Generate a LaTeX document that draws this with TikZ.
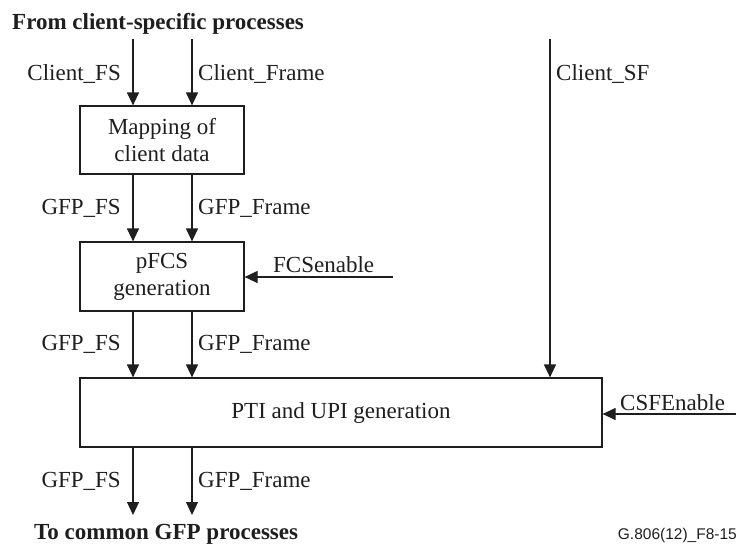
\documentclass[tikz,border=0pt]{standalone}
\usepackage{fontspec}
\setmainfont{Liberation Serif}
\newfontfamily\capfont{Liberation Sans}
\usetikzlibrary{arrows.meta}
\definecolor{ink}{RGB}{30,30,30}
\tikzset{
  blk/.style={draw=ink, line width=1.2pt, rectangle, inner sep=0pt, align=center, text=ink},
  arr/.style={draw=ink, line width=1.2pt, -{Triangle[length=13pt,width=12pt]}},
  lbl/.style={inner sep=0pt, text=ink},
}
\begin{document}
\begin{tikzpicture}[x=1pt,y=-1pt,font=\fontsize{23}{27}\selectfont]
\useasboundingbox (0,0) rectangle (739,544);
% boxes
\node[blk, minimum width=164pt, minimum height=68pt] (map) at (162,140) {Mapping of\\client data};
\node[blk, minimum width=164pt, minimum height=69pt] (pfcs) at (162,276.5) {pFCS\\generation};
\node[blk, minimum width=522pt, minimum height=69pt] (pti) at (341,412.5) {PTI and UPI generation};
% coordinates
\coordinate (cfs) at (133,39);
\coordinate (cfr) at (192,39);
\coordinate (csf) at (550,39);
\coordinate (ofs) at (133,515);
\coordinate (ofr) at (192,515);
\coordinate (fcsen) at (393,277);
\coordinate (csfen) at (736,414);
% arrows
\draw[arr] (cfs) -- (cfs |- map.north);
\draw[arr] (cfr) -- (cfr |- map.north);
\draw[arr] (cfs |- map.south) -- (cfs |- pfcs.north);
\draw[arr] (cfr |- map.south) -- (cfr |- pfcs.north);
\draw[arr] (cfs |- pfcs.south) -- (cfs |- pti.north);
\draw[arr] (cfr |- pfcs.south) -- (cfr |- pti.north);
\draw[arr] (csf) -- (csf |- pti.north);
\draw[arr] (ofs |- pti.south) -- (ofs);
\draw[arr] (ofr |- pti.south) -- (ofr);
\draw[arr] (fcsen) -- (fcsen -| pfcs.east);
\draw[arr] (csfen) -- (csfen -| pti.east);
% labels
\node[lbl, anchor=base west] (title) at (12,29) {\bfseries From client-specific processes};
\node[lbl, anchor=base west] (bottom) at (34,539) {\bfseries To common GFP processes};
\node[lbl, anchor=base east] (l1) at (121,80) {Client\_FS};
\node[lbl, anchor=base west] (l2) at (198,80) {Client\_Frame};
\node[lbl, anchor=base west] (l3) at (556,80) {Client\_SF};
\node[lbl, anchor=base east] (l4) at (121,214) {GFP\_FS};
\node[lbl, anchor=base west] (l5) at (198,214) {GFP\_Frame};
\node[lbl, anchor=base east] (l6) at (121,350) {GFP\_FS};
\node[lbl, anchor=base west] (l7) at (198,350) {GFP\_Frame};
\node[lbl, anchor=base east] (l8) at (121,487) {GFP\_FS};
\node[lbl, anchor=base west] (l9) at (198,487) {GFP\_Frame};
\node[lbl, anchor=base west] (l10) at (273,272) {FCSenable};
\node[lbl, anchor=base west] (l11) at (620,410) {CSFEnable};
\node[lbl, anchor=base east, font=\capfont\fontsize{15.5}{18}\selectfont] (cap) at (737,539) {G.806(12)\_F8-15};
\end{tikzpicture}
\end{document}
